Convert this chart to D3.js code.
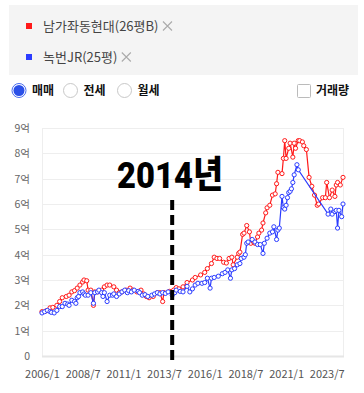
<!DOCTYPE html>
<html><head><meta charset="utf-8">
<script src="https://cdn.jsdelivr.net/npm/d3@7"></script>
<style>
html,body{margin:0;padding:0;background:#fff;}
svg{display:block;font-family:'Noto Sans CJK KR','Noto Sans',sans-serif;}
</style></head>
<body><svg id="c" width="364" height="393"></svg>
<script>
const seriesNames = ["남가좌동현대(26평B)", "녹번JR(25평)"];
const seriesColors = ["#ff1a1a", "#2b3cff"];
const yTicks = [0,1,2,3,4,5,6,7,8,9];
const yTickLabels = ["0","1억","2억","3억","4억","5억","6억","7억","8억","9억"];
const xTickDates = ["2006-01","2008-07","2011-01","2013-07","2016-01","2018-07","2021-01","2023-07"];
const xTickLabels = ["2006/1","2008/7","2011/1","2013/7","2016/1","2018/7","2021/1","2023/7"];
const markerDate = "2014-01";
const markerLabel = "2014년";
const radioLabels = ["매매","전세","월세"];
const checkLabel = "거래량";

const redDates = ["2006-01","2006-04","2006-07","2006-09","2006-12","2007-02","2007-04","2007-07","2007-09","2007-11","2008-01","2008-03","2008-05","2008-07","2008-08","2008-10","2008-11","2009-01","2009-03","2009-04","2009-06","2009-09","2009-11","2010-01","2010-03","2010-06","2010-08","2010-10","2010-12","2011-03","2011-06","2011-08","2011-11","2012-02","2012-04","2012-06","2012-08","2012-11","2013-02","2013-04","2013-06","2013-07","2013-11","2014-02","2014-04","2014-06","2014-09","2014-12","2015-04","2015-06","2015-10","2016-01","2016-03","2016-06","2016-08","2016-10","2016-12","2017-03","2017-05","2017-07","2017-09","2017-10","2018-01","2018-02","2018-03","2018-05","2018-06","2018-08","2018-10","2018-11","2019-01","2019-02","2019-04","2019-05","2019-07","2019-08","2019-10","2019-11","2020-01","2020-03","2020-05","2020-06","2020-07","2020-10","2020-11","2020-12","2021-01","2021-03","2021-04","2021-06","2021-07","2021-08","2021-10","2021-11","2022-01","2022-02","2022-04","2022-06","2022-08","2022-10","2022-12","2023-01","2023-04","2023-06","2023-07","2023-09","2023-11","2024-01","2024-02","2024-03","2024-05","2024-07"];
const redValues = [1.75,1.78,1.9,1.92,2.0,2.15,2.3,2.35,2.4,2.53,2.58,2.68,2.8,2.92,3.0,2.97,2.6,2.6,2.0,2.53,2.53,2.6,2.73,2.8,2.8,2.73,2.6,2.5,2.53,2.6,2.68,2.6,2.53,2.6,2.45,2.35,2.3,2.35,2.5,2.5,2.15,2.5,2.55,2.6,2.7,2.65,2.73,2.9,3.0,3.1,3.2,3.3,3.45,3.65,3.9,3.85,3.85,3.7,3.67,3.85,3.9,3.6,3.9,4.05,4.1,4.8,4.85,5.15,4.9,4.45,4.5,4.45,4.7,4.85,4.97,5.25,5.65,5.85,5.95,6.35,6.4,6.8,7.25,7.2,7.8,8.5,7.8,8.2,8.4,7.85,8.4,8.2,8.5,8.5,8.45,8.3,8.15,7.05,6.7,6.35,5.95,6.0,6.25,6.25,6.85,6.25,6.55,6.3,6.75,6.85,6.75,7.05];

const blueDates = ["2006-01","2006-03","2006-05","2006-07","2006-08","2006-10","2006-12","2007-02","2007-04","2007-06","2007-08","2007-09","2007-11","2008-01","2008-02","2008-03","2008-04","2008-05","2008-07","2008-08","2008-09","2008-11","2009-01","2009-03","2009-04","2009-06","2009-07","2009-09","2009-10","2009-11","2010-01","2010-03","2010-05","2010-06","2010-08","2010-10","2010-12","2011-02","2011-04","2011-05","2011-07","2011-09","2011-12","2012-01","2012-03","2012-05","2012-07","2012-10","2012-12","2013-02","2013-04","2013-06","2013-08","2013-10","2014-01","2014-03","2014-04","2014-07","2014-09","2014-12","2015-02","2015-04","2015-06","2015-08","2015-11","2016-01","2016-03","2016-05","2016-06","2016-08","2016-11","2017-02","2017-04","2017-06","2017-08","2017-09","2017-11","2018-01","2018-03","2018-04","2018-06","2018-07","2018-08","2018-09","2018-12","2019-02","2019-04","2019-06","2019-08","2019-09","2019-11","2020-01","2020-03","2020-04","2020-06","2020-07","2020-08","2020-10","2020-11","2020-12","2021-01","2021-02","2021-03","2021-04","2021-05","2021-06","2021-07","2021-09","2021-10","2023-08","2023-10","2023-11","2024-01","2024-02","2024-03","2024-04","2024-06","2024-07"];
const blueValues = [1.7,1.75,1.8,1.75,1.72,1.7,1.8,1.95,1.95,2.08,2.05,2.0,2.2,2.15,2.08,2.3,2.35,2.5,2.53,2.45,2.4,2.4,2.5,2.08,2.5,2.53,2.6,2.5,2.35,2.5,2.15,2.4,2.4,2.45,2.35,2.45,2.53,2.6,2.5,2.58,2.53,2.6,2.55,2.5,2.4,2.42,2.35,2.4,2.45,2.5,2.45,2.5,2.47,2.53,2.4,2.5,2.6,2.55,2.53,2.75,2.53,2.65,2.8,2.87,2.87,2.9,3.07,2.68,3.07,3.1,3.15,3.25,3.3,3.4,3.07,3.4,3.45,3.6,3.65,3.85,3.9,4.0,4.45,4.5,4.6,4.5,4.4,4.4,4.05,4.45,4.65,4.85,4.9,5.1,4.6,4.97,5.05,6.3,5.85,5.8,5.95,6.25,6.45,6.5,6.6,6.85,7.15,7.55,7.35,5.6,5.8,5.6,5.7,5.75,5.05,5.75,5.5,6.0];

const parse = d3.timeParse("%Y-%m");
const svg = d3.select("#c");
const font = "'Noto Sans CJK KR','Noto Sans',sans-serif";

// Header box
svg.append("rect").attr("x",9).attr("y",5).attr("width",349).attr("height",70).attr("fill","#f4f4f4");
const legendY = [26, 57];
seriesNames.forEach((n,i)=>{
  const g = svg.append("g");
  g.append("rect").attr("x",26).attr("y",legendY[i]-3).attr("width",6).attr("height",6).attr("fill",seriesColors[i]);
  const t = g.append("text").attr("x",43).attr("y",legendY[i]+4.8).attr("font-size",13).attr("fill","#444").text(n);
  const w = t.node().getComputedTextLength();
  const cx = 43 + w + 9;
  g.append("path").attr("d",`M${cx-4.5},${legendY[i]-4.5}L${cx+4.5},${legendY[i]+4.5}M${cx+4.5},${legendY[i]-4.5}L${cx-4.5},${legendY[i]+4.5}`)
   .attr("stroke","#aaa").attr("stroke-width",1.1);
});

// Radio row
const radioX = [19, 70.5, 124.5];
radioLabels.forEach((l,i)=>{
  if(i===0){
    svg.append("circle").attr("cx",radioX[i]).attr("cy",90.5).attr("r",7).attr("fill","#fff").attr("stroke","#4a6cf0").attr("stroke-width",1);
    svg.append("circle").attr("cx",radioX[i]).attr("cy",90.5).attr("r",5.5).attr("fill","#2b50e8");
  } else {
    svg.append("circle").attr("cx",radioX[i]).attr("cy",90.5).attr("r",7).attr("fill","#fff").attr("stroke","#c8c8c8").attr("stroke-width",1);
  }
  svg.append("text").attr("x",radioX[i]+13).attr("y",95).attr("font-size",12).attr("font-weight",700).attr("fill","#111").text(l);
});
svg.append("rect").attr("x",297.5).attr("y",84.5).attr("width",13).attr("height",13).attr("rx",1).attr("fill","#fff").attr("stroke","#bbb");
svg.append("text").attr("x",316).attr("y",95).attr("font-size",12).attr("font-weight",700).attr("fill","#111").text(checkLabel);

// Chart
const pLeft=42, pRight=343, pTop=128, pBottom=356;
const x = d3.scaleTime().domain([parse("2006-01"), parse("2024-07")]).range([pLeft,pRight]);
const y = d3.scaleLinear().domain([0,9]).range([pBottom,pTop]);

const grid = svg.append("g");
grid.selectAll("line").data(yTicks).join("line")
  .attr("x1",pLeft).attr("x2",pRight).attr("y1",d=>Math.round(y(d))+0.5).attr("y2",d=>Math.round(y(d))+0.5)
  .attr("stroke","#eeeeee").attr("stroke-width",1);
svg.append("line").attr("x1",pLeft+0.5).attr("x2",pLeft+0.5).attr("y1",pTop).attr("y2",pBottom).attr("stroke","#eeeeee");
svg.append("line").attr("x1",pRight+0.5).attr("x2",pRight+0.5).attr("y1",pTop).attr("y2",pBottom).attr("stroke","#eeeeee");
svg.append("line").attr("x1",pLeft).attr("x2",pRight+1).attr("y1",pBottom+0.5).attr("y2",pBottom+0.5).attr("stroke","#e6e6e6").attr("stroke-width",2);

// y axis labels
const yAxis = d3.axisLeft(y).tickValues(yTicks).tickFormat((d,i)=>yTickLabels[i]).tickSize(0).tickPadding(12);
const yg = svg.append("g").attr("transform",`translate(${pLeft},0)`).call(yAxis);
yg.select(".domain").remove();
yg.selectAll("text").attr("font-size",10.5).attr("fill","#666").attr("font-family",font);

// x axis labels
const xAxis = d3.axisBottom(x).tickValues(xTickDates.map(parse)).tickFormat((d,i)=>xTickLabels[i]).tickSize(0).tickPadding(14);
const xg = svg.append("g").attr("transform",`translate(0,${pBottom})`).call(xAxis);
xg.select(".domain").remove();
xg.selectAll("text").attr("font-size",11).attr("fill","#555").attr("font-family",font);

// series
const series = [
  {dates: redDates, values: redValues, color: seriesColors[0]},
  {dates: blueDates, values: blueValues, color: seriesColors[1]}
];
const line = d3.line().x(d=>x(d[0])).y(d=>y(d[1]));
series.forEach(s=>{
  const pts = s.dates.map((d,i)=>[parse(d), s.values[i]]);
  svg.append("path").datum(pts).attr("d",line).attr("fill","none").attr("stroke",s.color).attr("stroke-width",1.2);
  svg.append("g").selectAll("circle").data(pts).join("circle")
    .attr("cx",d=>x(d[0])).attr("cy",d=>y(d[1])).attr("r",2.1)
    .attr("fill","#fff").attr("stroke",s.color).attr("stroke-width",1);
});

// marker
const mx = x(parse(markerDate));
svg.append("line").attr("x1",mx).attr("x2",mx).attr("y1",200).attr("y2",365)
  .attr("stroke","#000").attr("stroke-width",4).attr("stroke-dasharray","10,5");
svg.append("text").attr("x",117).attr("y",188).attr("font-size",37).attr("font-weight",900)
  .attr("font-family","Roboto,'Noto Sans CJK KR',sans-serif").attr("fill","#000")
  .attr("textLength",106).attr("lengthAdjust","spacingAndGlyphs").text(markerLabel);
</script></body></html>
